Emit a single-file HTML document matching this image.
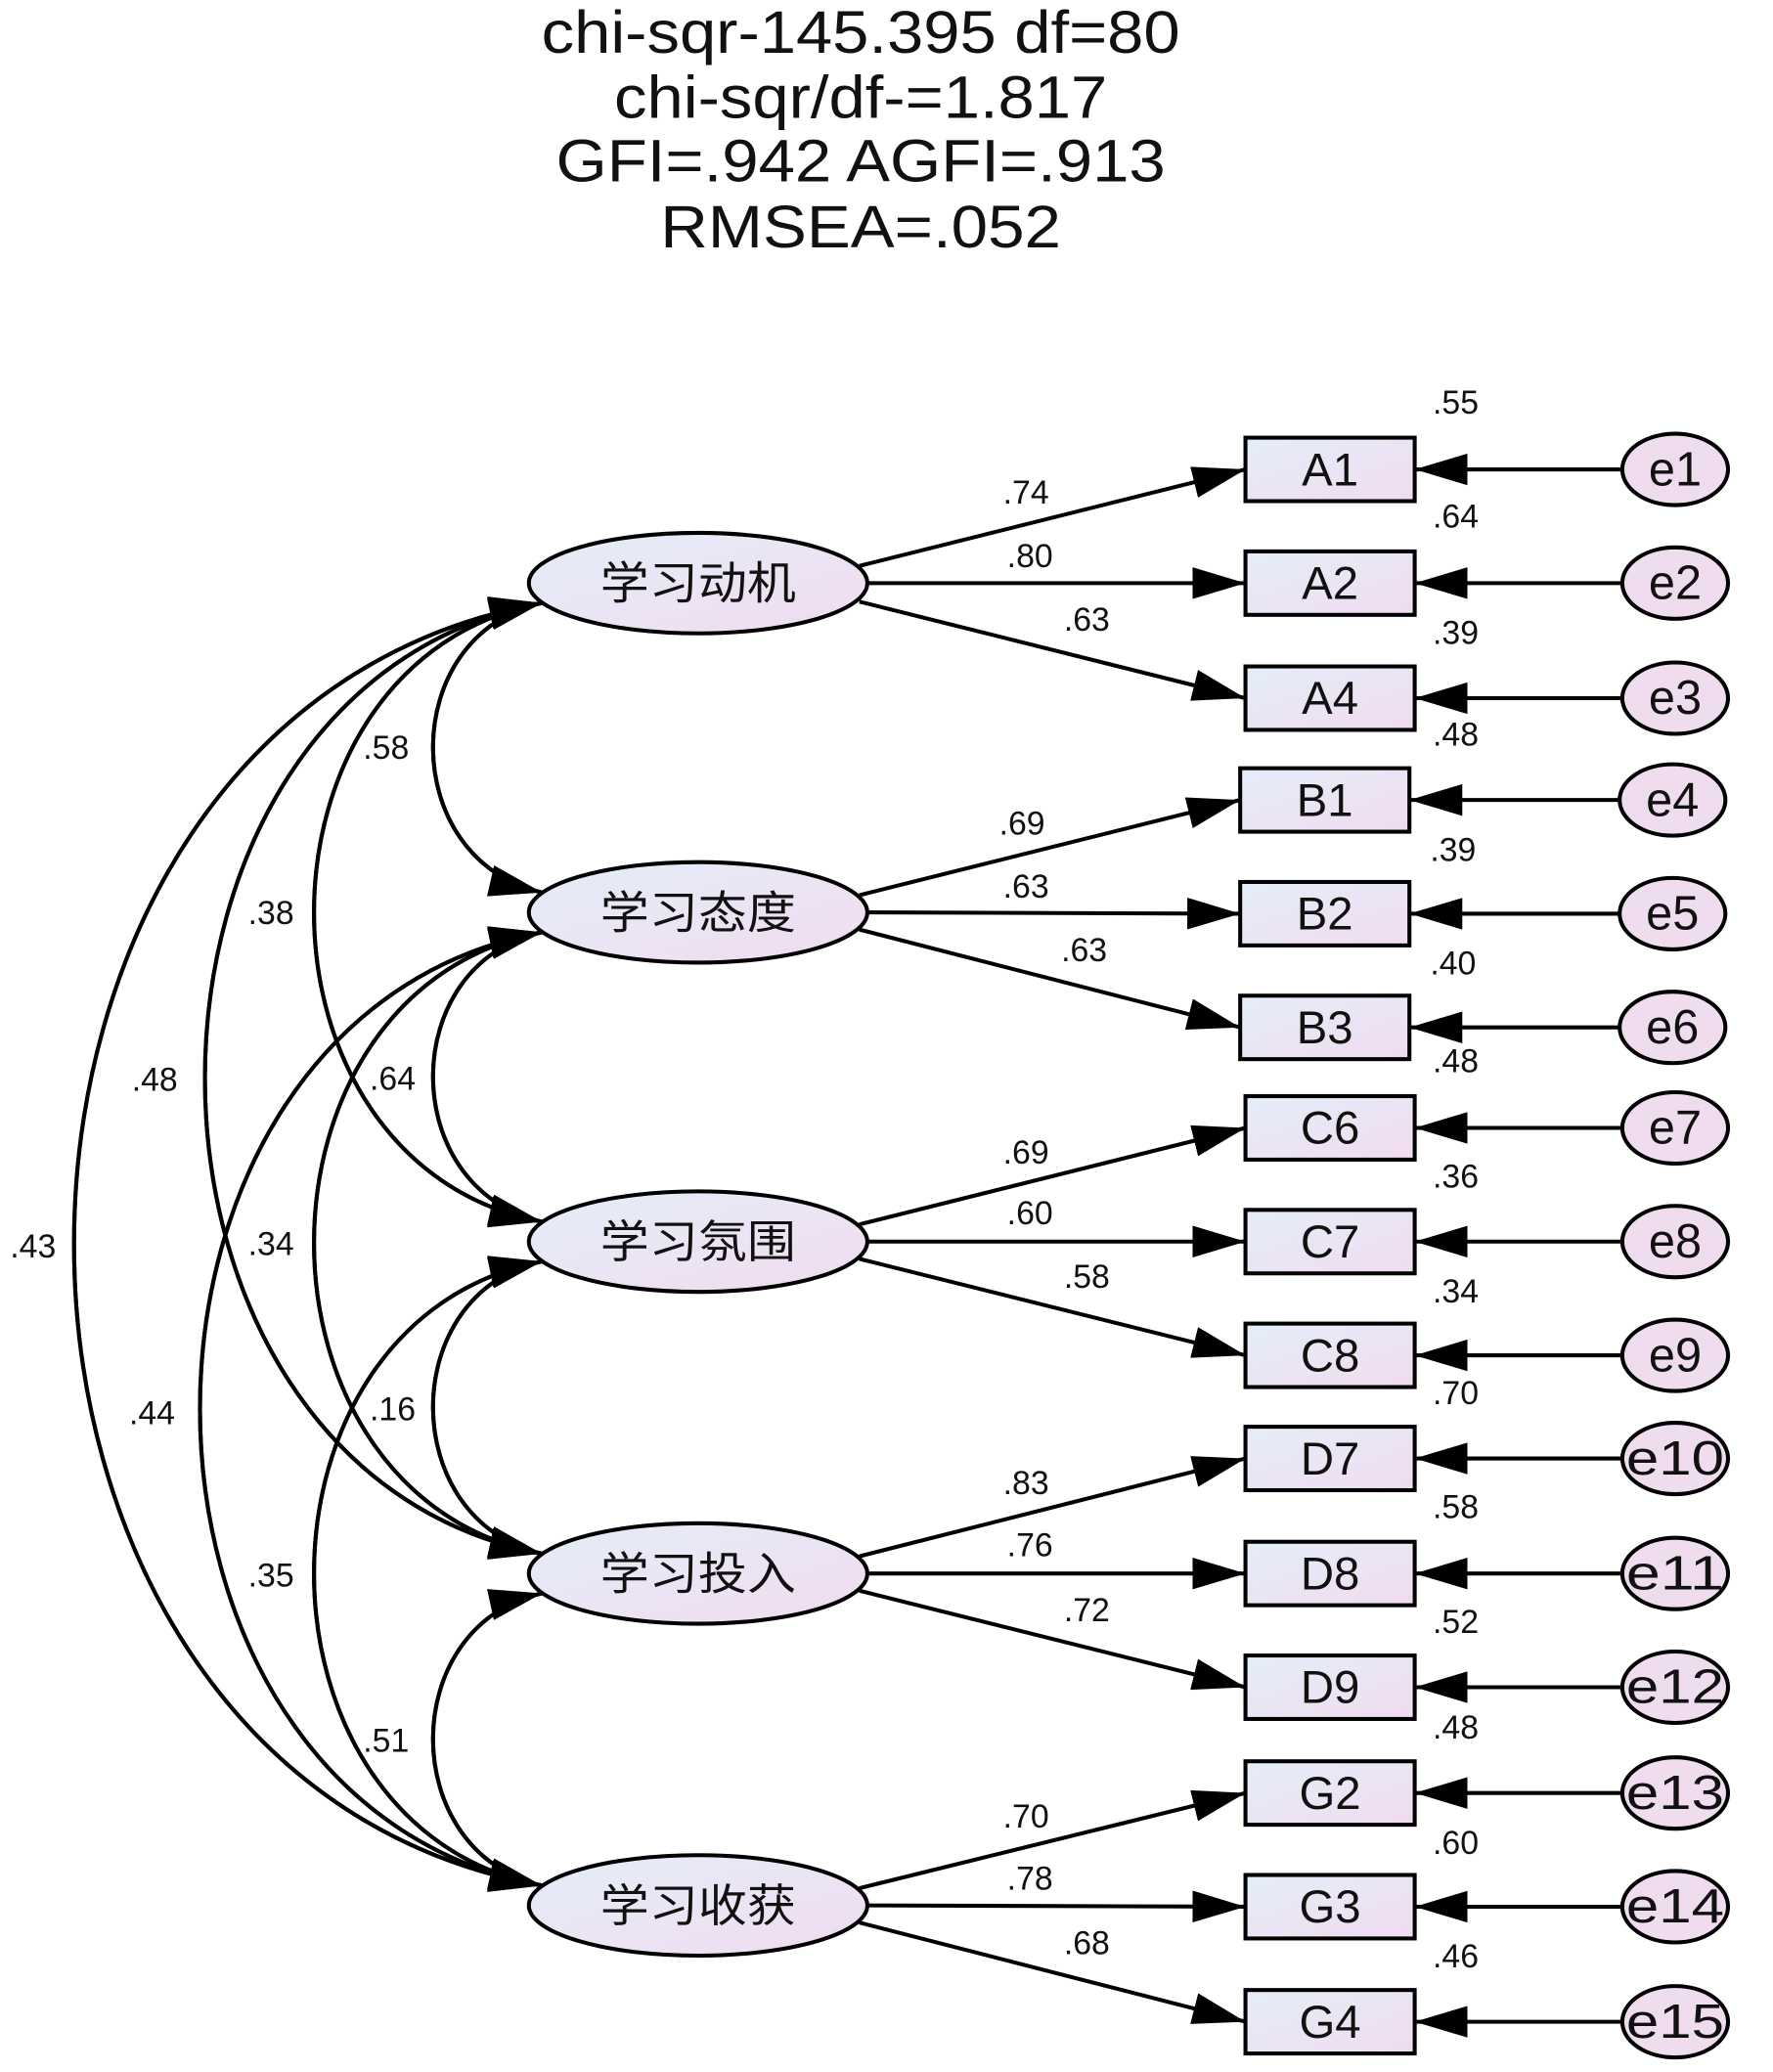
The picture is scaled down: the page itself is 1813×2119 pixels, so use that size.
<!DOCTYPE html>
<html><head><meta charset="utf-8"><style>
html,body{margin:0;padding:0;background:#fff;}
svg{display:block;}
text{font-family:"Liberation Sans","Noto Sans CJK SC",sans-serif;fill:#111;}
</style></head><body>
<svg width="1813" height="2119" viewBox="0 0 1341 1567" preserveAspectRatio="none" xmlns="http://www.w3.org/2000/svg">
<defs>
<linearGradient id="g" x1="0" y1="0" x2="1" y2="1">
<stop offset="0" stop-color="#e4eef8"/><stop offset="1" stop-color="#f1dbf0"/></linearGradient>
<marker id="a" viewBox="0 0 40 24" refX="40" refY="12" markerWidth="40" markerHeight="24" orient="auto" markerUnits="userSpaceOnUse">
<path d="M0,0 L40,12 L0,24 Z" fill="#000"/></marker>
</defs>
<g text-anchor="middle" font-size="45">
<text x="651" y="40" textLength="483" lengthAdjust="spacingAndGlyphs">chi-sqr-145.395 df=80</text>
<text x="651" y="89" textLength="373" lengthAdjust="spacingAndGlyphs">chi-sqr/df-=1.817</text>
<text x="651" y="137" textLength="461" lengthAdjust="spacingAndGlyphs">GFI=.942 AGFI=.913</text>
<text x="651" y="187" textLength="303" lengthAdjust="spacingAndGlyphs">RMSEA=.052</text>
</g>
<g fill="none" stroke="#000" stroke-width="3" marker-end="url(#a)">
<path d="M410,456 C300,480 300,650 410,675"/>
<path d="M410,675 C300,650 300,480 410,456"/>
<path d="M410,705 C300,729 300,899 410,924"/>
<path d="M410,924 C300,899 300,729 410,705"/>
<path d="M410,954 C300,978 300,1150 410,1175"/>
<path d="M410,1175 C300,1150 300,978 410,954"/>
<path d="M410,1205 C300,1229 300,1401 410,1426"/>
<path d="M410,1426 C300,1401 300,1229 410,1205"/>
<path d="M410,456 C180,500 180,880 410,924"/>
<path d="M410,924 C180,880 180,500 410,456"/>
<path d="M410,705 C180,749 180,1131 410,1175"/>
<path d="M410,1175 C180,1131 180,749 410,705"/>
<path d="M410,954 C180,998 180,1382 410,1426"/>
<path d="M410,1426 C180,1382 180,998 410,954"/>
<path d="M410,456 C70,520 70,1111 410,1175"/>
<path d="M410,1175 C70,1111 70,520 410,456"/>
<path d="M410,705 C65,769 65,1362 410,1426"/>
<path d="M410,1426 C65,1362 65,769 410,705"/>
<path d="M410,456 C-62,540 -62,1342 410,1426"/>
<path d="M410,1426 C-62,1342 -62,540 410,456"/>
</g>
<g font-size="25" text-anchor="middle">
<text x="292" y="574">.58</text><text x="297" y="824">.64</text><text x="297" y="1074">.16</text><text x="292" y="1325">.51</text>
<text x="205" y="699">.38</text><text x="205" y="949">.34</text><text x="205" y="1200">.35</text>
<text x="117" y="825">.48</text><text x="115" y="1077">.44</text><text x="25" y="951">.43</text>
</g>
<g stroke="#000" stroke-width="3">
<g fill="none" marker-end="url(#a)">
<path d="M650,428 L942,355"/><path d="M656,441 L942,441"/><path d="M650,455 L942,528"/>
<path d="M650,677 L938,605"/><path d="M656,690 L938,691"/><path d="M650,703 L938,777"/>
<path d="M650,926 L942,853"/><path d="M656,939 L942,939"/><path d="M650,952 L942,1025"/>
<path d="M650,1177 L942,1103"/><path d="M656,1190 L942,1190"/><path d="M650,1203 L942,1276"/>
<path d="M650,1428 L942,1356"/><path d="M656,1441 L942,1442"/><path d="M650,1454 L942,1529"/>
</g>
<g fill="url(#g)">
<ellipse cx="528" cy="441" rx="128" ry="38"/><ellipse cx="528" cy="690" rx="128" ry="38"/>
<ellipse cx="528" cy="939" rx="128" ry="38"/><ellipse cx="528" cy="1190" rx="128" ry="38"/>
<ellipse cx="528" cy="1441" rx="128" ry="38"/>
</g>
</g>
<g font-size="34" text-anchor="middle">
<text x="528" y="453" textLength="148" lengthAdjust="spacingAndGlyphs">学习动机</text>
<text x="528" y="702" textLength="148" lengthAdjust="spacingAndGlyphs">学习态度</text>
<text x="528" y="951" textLength="148" lengthAdjust="spacingAndGlyphs">学习氛围</text>
<text x="528" y="1202" textLength="148" lengthAdjust="spacingAndGlyphs">学习投入</text>
<text x="528" y="1453" textLength="148" lengthAdjust="spacingAndGlyphs">学习收获</text>
</g>
<g font-size="25" text-anchor="middle">
<text x="776" y="381">.74</text><text x="779" y="429">.80</text><text x="822" y="477">.63</text>
<text x="773" y="631">.69</text><text x="776" y="679">.63</text><text x="820" y="727">.63</text>
<text x="776" y="880">.69</text><text x="779" y="926">.60</text><text x="822" y="974">.58</text>
<text x="776" y="1130">.83</text><text x="779" y="1177">.76</text><text x="822" y="1226">.72</text>
<text x="776" y="1382">.70</text><text x="779" y="1429">.78</text><text x="822" y="1478">.68</text>
</g>
<g stroke="#000" stroke-width="3">
<g fill="none" marker-end="url(#a)">
<path d="M1227,355 L1070,355"/><path d="M1227,441 L1070,441"/><path d="M1227,528 L1070,528"/>
<path d="M1225,605 L1066,605"/><path d="M1225,691 L1066,691"/><path d="M1225,777 L1066,777"/>
<path d="M1227,853 L1070,853"/><path d="M1227,939 L1070,939"/><path d="M1227,1025 L1070,1025"/>
<path d="M1227,1103 L1070,1103"/><path d="M1227,1190 L1070,1190"/><path d="M1227,1276 L1070,1276"/>
<path d="M1227,1356 L1070,1356"/><path d="M1227,1442 L1070,1442"/><path d="M1227,1529 L1070,1529"/>
</g>
<g fill="url(#g)">
<rect x="942" y="331" width="128" height="48"/><rect x="942" y="417" width="128" height="48"/><rect x="942" y="504" width="128" height="48"/>
<rect x="938" y="581" width="128" height="48"/><rect x="938" y="667" width="128" height="48"/><rect x="938" y="753" width="128" height="48"/>
<rect x="942" y="829" width="128" height="48"/><rect x="942" y="915" width="128" height="48"/><rect x="942" y="1001" width="128" height="48"/>
<rect x="942" y="1079" width="128" height="48"/><rect x="942" y="1166" width="128" height="48"/><rect x="942" y="1252" width="128" height="48"/>
<rect x="942" y="1332" width="128" height="48"/><rect x="942" y="1418" width="128" height="48"/><rect x="942" y="1505" width="128" height="48"/>
</g>
<g fill="#f0dcef">
<ellipse cx="1267" cy="355" rx="40" ry="27"/><ellipse cx="1267" cy="441" rx="40" ry="27"/><ellipse cx="1267" cy="528" rx="40" ry="27"/>
<ellipse cx="1265" cy="605" rx="40" ry="27"/><ellipse cx="1265" cy="691" rx="40" ry="27"/><ellipse cx="1265" cy="777" rx="40" ry="27"/>
<ellipse cx="1267" cy="853" rx="40" ry="27"/><ellipse cx="1267" cy="939" rx="40" ry="27"/><ellipse cx="1267" cy="1025" rx="40" ry="27"/>
<ellipse cx="1267" cy="1103" rx="40" ry="27"/><ellipse cx="1267" cy="1190" rx="40" ry="27"/><ellipse cx="1267" cy="1276" rx="40" ry="27"/>
<ellipse cx="1267" cy="1356" rx="40" ry="27"/><ellipse cx="1267" cy="1442" rx="40" ry="27"/><ellipse cx="1267" cy="1529" rx="40" ry="27"/>
</g>
</g>
<g font-size="35" text-anchor="middle">
<text x="1006" y="367">A1</text><text x="1006" y="453">A2</text><text x="1006" y="540">A4</text>
<text x="1002" y="617">B1</text><text x="1002" y="703">B2</text><text x="1002" y="789">B3</text>
<text x="1006" y="865">C6</text><text x="1006" y="951">C7</text><text x="1006" y="1037">C8</text>
<text x="1006" y="1115">D7</text><text x="1006" y="1202">D8</text><text x="1006" y="1288">D9</text>
<text x="1006" y="1368">G2</text><text x="1006" y="1454">G3</text><text x="1006" y="1541">G4</text>
</g>
<g font-size="36" text-anchor="middle">
<text x="1267" y="367">e1</text><text x="1267" y="453">e2</text><text x="1267" y="540">e3</text>
<text x="1265" y="617">e4</text><text x="1265" y="703">e5</text><text x="1265" y="789">e6</text>
<text x="1267" y="865">e7</text><text x="1267" y="951">e8</text><text x="1267" y="1037">e9</text>
<text x="1267" y="1115" textLength="74" lengthAdjust="spacingAndGlyphs">e10</text><text x="1267" y="1202" textLength="74" lengthAdjust="spacingAndGlyphs">e11</text><text x="1267" y="1288" textLength="74" lengthAdjust="spacingAndGlyphs">e12</text>
<text x="1267" y="1368" textLength="74" lengthAdjust="spacingAndGlyphs">e13</text><text x="1267" y="1454" textLength="74" lengthAdjust="spacingAndGlyphs">e14</text><text x="1267" y="1541" textLength="74" lengthAdjust="spacingAndGlyphs">e15</text>
</g>
<g font-size="25" text-anchor="middle">
<text x="1101" y="313">.55</text><text x="1101" y="399">.64</text><text x="1101" y="487">.39</text>
<text x="1101" y="564">.48</text><text x="1099" y="651">.39</text><text x="1099" y="737">.40</text>
<text x="1101" y="811">.48</text><text x="1101" y="898">.36</text><text x="1101" y="985">.34</text>
<text x="1101" y="1062">.70</text><text x="1101" y="1148">.58</text><text x="1101" y="1235">.52</text>
<text x="1101" y="1315">.48</text><text x="1101" y="1402">.60</text><text x="1101" y="1488">.46</text>
</g>
</svg>
</body></html>
